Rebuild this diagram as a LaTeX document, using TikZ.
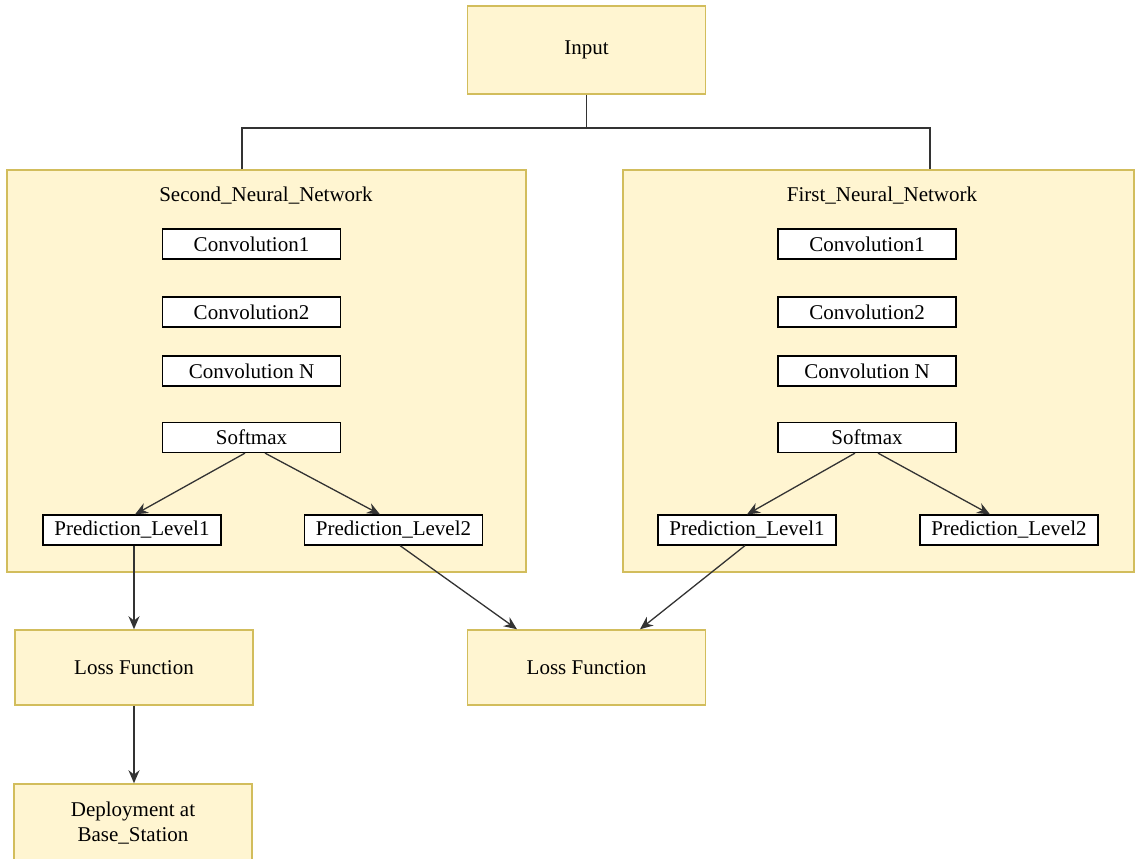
\documentclass[tikz,border=0pt]{standalone}
\usepackage{fontspec}
\setmainfont{Liberation Serif}
\usepackage{tikz}
\usetikzlibrary{arrows.meta,positioning}
\definecolor{netFill}{HTML}{FFF5D1}
\definecolor{netLine}{HTML}{D2BD5C}
\definecolor{wireDark}{HTML}{333333}
\newcommand{\boxFont}{\fontsize{10.5}{12.5}\selectfont}

\begin{document}
\begin{tikzpicture}[x=0.5pt, y=-0.5pt,
      panel/.style={draw=netLine, fill=netFill, line width=0.75pt, inner sep=0pt},
      block/.style={panel, minimum width=119pt, minimum height=37.5pt,
                    align=center, font=\boxFont},
      layerbox/.style={draw=black, fill=white, line width=0.6pt, inner sep=0pt,
                       minimum width=89pt, minimum height=15pt, font=\boxFont},
      wire/.style={draw=wireDark, line width=0.65pt},
      call/.style={-{Stealth[length=6.5pt, width=5.5pt]}, wire}]
    \useasboundingbox (0,0) rectangle (1135,858);

    % input and the two networks
    \node[block, minimum height=44pt] (input) at (586.5,50) {Input};
    \node[panel, minimum width=259.5pt, minimum height=201pt] (netSecond) at (266.5,371) {};
    \node[panel, minimum width=255.5pt, minimum height=201pt] (netFirst)  at (878.5,371) {};
    \node[font=\boxFont] (titleSecond) at (266,196) {Second\_Neural\_Network};
    \node[font=\boxFont] (titleFirst)  at (882,196) {First\_Neural\_Network};

    \coordinate (fork) at (586.5,128);
    \draw[wire] (input) -- (fork);
    \draw[wire] ([xshift=-12.25pt]netSecond.north) |- (fork) -| ([xshift=25.75pt]netFirst.north);

    % second network layers
    \node[layerbox] (sConvOne) at (251.5,244)   {Convolution1};
    \node[layerbox] (sConvTwo) at (251.5,312)   {Convolution2};
    \node[layerbox] (sConvN)   at (251.5,371)   {Convolution N};
    \node[layerbox] (sSoftmax) at (251.5,437.5) {Softmax};
    \node[layerbox] (sPredOne) at (132,530)     {Prediction\_Level1};
    \node[layerbox] (sPredTwo) at (393.5,530)   {Prediction\_Level2};

    % first network layers
    \node[layerbox] (fConvOne) at (867,244)   {Convolution1};
    \node[layerbox] (fConvTwo) at (867,312)   {Convolution2};
    \node[layerbox] (fConvN)   at (867,371)   {Convolution N};
    \node[layerbox] (fSoftmax) at (867,437.5) {Softmax};
    \node[layerbox] (fPredOne) at (747,530)   {Prediction\_Level1};
    \node[layerbox] (fPredTwo) at (1009,530)  {Prediction\_Level2};

    % losses and deployment
    \node[block] (lossSecond) at (134,667.5)   {Loss Function};
    \node[block] (lossShared) at (586.5,667.5) {Loss Function};
    \node[block, minimum height=39pt] (deploy) at (133,823) {Deployment at\\Base\_Station};

    \draw[call] ([xshift=-3.25pt]sSoftmax.south) -- ([xshift=1.5pt]sPredOne.north);
    \draw[call] ([xshift=6.75pt]sSoftmax.south)  -- ([xshift=-6.75pt]sPredTwo.north);
    \draw[call] ([xshift=-6pt]fSoftmax.south)    -- (fPredOne.north);
    \draw[call] ([xshift=5.5pt]fSoftmax.south)   -- ([xshift=-9.5pt]fPredTwo.north);

    \draw[call] ([xshift=1pt]sPredOne.south)    -- (lossSecond.north);
    \draw[call] ([xshift=3.25pt]sPredTwo.south) -- ([xshift=-34.75pt]lossShared.north);
    \draw[call] ([xshift=-1pt]fPredOne.south)   -- ([xshift=26.75pt]lossShared.north);
    \draw[call] (lossSecond.south) -- (lossSecond.south |- deploy.north);
  \end{tikzpicture}
\end{document}
